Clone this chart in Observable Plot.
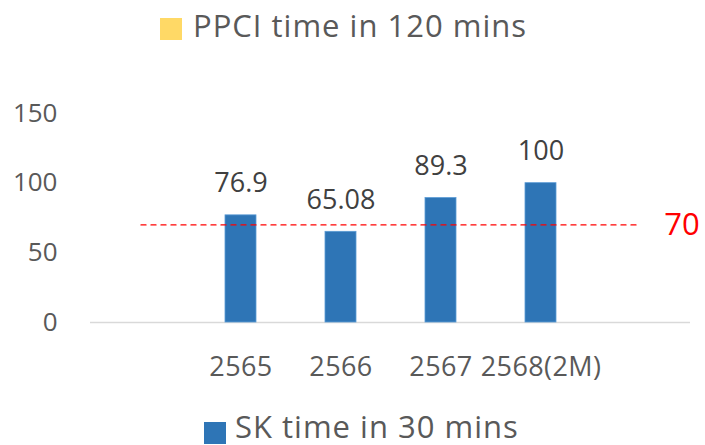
<!DOCTYPE html>
<html>
<head>
<meta charset="utf-8">
<script src="https://cdn.jsdelivr.net/npm/d3@7"></script>
<script src="https://cdn.jsdelivr.net/npm/@observablehq/plot@0.6"></script>
<style>
  body { margin: 0; background: #fff; font-family: "Open Sans", sans-serif; }
  #wrap { position: relative; width: 705px; height: 445px; overflow: hidden; }
  #chart { position: absolute; left: 0; top: 0; }
  .legend { position: absolute; font-size: 31px; color: #595959; line-height: 1; letter-spacing: 1px; white-space: nowrap; }
  .legend .txt { position: absolute; top: 0; }
  .legend .sw { position: absolute; width: 22px; height: 22px; }
  g[aria-label^="y-axis"] text { font-size: 26px; fill: #595959; }
  g[aria-label^="x-axis"] text { font-size: 27px; fill: #595959; letter-spacing: 0.4px; }
</style>
</head>
<body>
<div id="wrap">
  <div id="chart"></div>
  <div class="legend" style="left:160px; top:10px;">
    <span class="sw" style="left:0; top:8px; background:#FFD966;"></span>
    <span class="txt" style="left:33px;">PPCI time in 120 mins</span>
  </div>
  <div class="legend" style="left:204px; top:411px;">
    <span class="sw" style="left:0; top:11px; background:#2E75B6;"></span>
    <span class="txt" style="left:31px;">SK time in 30 mins</span>
  </div>
</div>
<script>
const categories = ["", "2565", "2566", "2567", "2568(2M)", " "];
const years = ["2565", "2566", "2567", "2568(2M)"];
const skValues = [76.9, 65.08, 89.3, 100];
const valueLabels = ["76.9", "65.08", "89.3", "100"];
const targetValue = 70;
const yTicks = [0, 50, 100, 150];

const bars = years.map((y, i) => ({year: y, value: skValues[i], label: valueLabels[i]}));
const target = [{x: categories[0], y: targetValue}, {x: categories[categories.length - 1], y: targetValue}];

const chart = Plot.plot({
  width: 705,
  height: 445,
  marginTop: 113,
  marginBottom: 123,
  marginLeft: 90,
  marginRight: 15,
  style: {fontFamily: "Open Sans, sans-serif", background: "transparent"},
  x: {type: "band", domain: categories, paddingInner: 0.69, paddingOuter: 0.345, label: null, tickSize: 0, tickPadding: 34},
  y: {domain: [0, 150], ticks: yTicks, label: null, tickSize: 0, tickPadding: 33},
  marks: [
    Plot.ruleY([0], {stroke: "#d9d9d9", strokeWidth: 1.5}),
    Plot.barY(bars, {x: "year", y: "value", fill: "#2E75B6", stroke: "#5B9BD5", strokeWidth: 0.8}),
    Plot.text(bars, {x: "year", y: "value", text: "label", dy: -23, lineAnchor: "bottom", fontSize: 27, fill: "#404040", style: {letterSpacing: "0.5px"}}),
    Plot.lineY(target, {x: "x", y: "y", stroke: "#FF0000", strokeWidth: 1.3, strokeDasharray: "5,5"}),
    Plot.text([targetValue], {x: () => categories[categories.length - 1], y: d => d, text: d => String(d), dx: 41, fontSize: 31, fill: "#FF0000"})
  ]
});
document.getElementById("chart").appendChild(chart);
</script>
</body>
</html>
